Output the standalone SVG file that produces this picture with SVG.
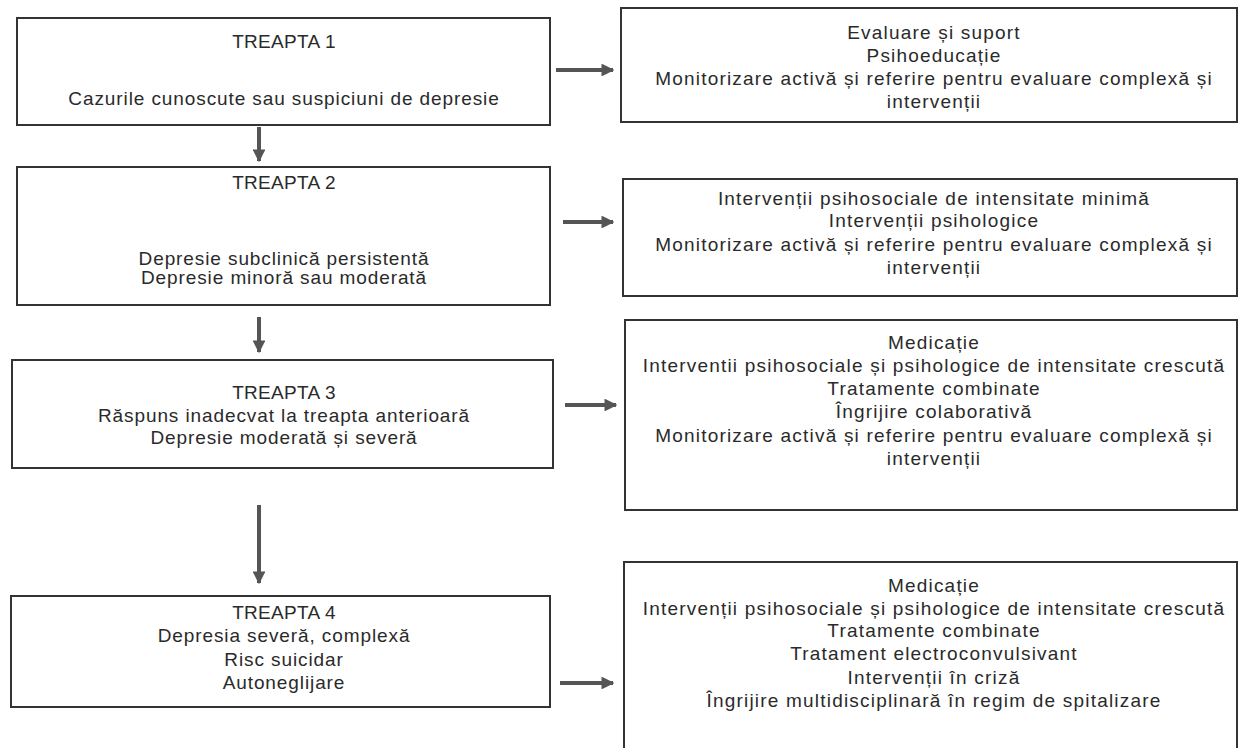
<svg xmlns="http://www.w3.org/2000/svg" width="1239" height="748" viewBox="0 0 1239 748">
<style>
.box{fill:#fff;stroke:#333;stroke-width:2}
.t{font-family:"Liberation Sans",Arial,sans-serif;font-size:19px;fill:#2a2a2a;text-anchor:middle;letter-spacing:0.9px}
.r{letter-spacing:1.2px}
.h{letter-spacing:0.3px}
.c{stroke:#555;stroke-width:4;fill:none}
</style>
<defs>
<marker id="ah" viewBox="0 0 10 10" refX="9" refY="5" markerWidth="3.2" markerHeight="3.2" orient="auto" markerUnits="strokeWidth">
<path d="M0,0 L10,5 L0,10 z" fill="#555"/>
</marker>
</defs>
<rect width="1239" height="748" fill="#fff"/>
<g id="connectors">
<line class="c" x1="259" y1="127" x2="259" y2="161" marker-end="url(#ah)"/>
<line class="c" x1="259" y1="317" x2="259" y2="352" marker-end="url(#ah)"/>
<line class="c" x1="259" y1="505" x2="259" y2="583" marker-end="url(#ah)"/>
<line class="c" x1="556" y1="70" x2="613" y2="70" marker-end="url(#ah)"/>
<line class="c" x1="563" y1="222" x2="613" y2="222" marker-end="url(#ah)"/>
<line class="c" x1="565" y1="405" x2="616" y2="405" marker-end="url(#ah)"/>
<line class="c" x1="560" y1="683" x2="613" y2="683" marker-end="url(#ah)"/>
</g>
<g id="step1">
<rect class="box" x="17" y="18" width="533" height="107"/>
<text class="t h" x="284" y="48">TREAPTA 1</text>
<text class="t" x="284" y="105">Cazurile cunoscute sau suspiciuni de depresie</text>
</g>
<g id="step2">
<rect class="box" x="17" y="167" width="533" height="138"/>
<text class="t h" x="284" y="189">TREAPTA 2</text>
<text class="t" x="284" y="265">Depresie subclinică persistentă</text>
<text class="t" x="284" y="284">Depresie minoră sau moderată</text>
</g>
<g id="step3">
<rect class="box" x="12" y="360" width="541" height="108"/>
<text class="t h" x="284" y="399">TREAPTA 3</text>
<text class="t" x="284" y="422">Răspuns inadecvat la treapta anterioară</text>
<text class="t" x="284" y="444">Depresie moderată și severă</text>
</g>
<g id="step4">
<rect class="box" x="11" y="596" width="539" height="111"/>
<text class="t h" x="284" y="619">TREAPTA 4</text>
<text class="t" x="284" y="642">Depresia severă, complexă</text>
<text class="t" x="284" y="666">Risc suicidar</text>
<text class="t" x="284" y="689">Autoneglijare</text>
</g>
<g id="action1">
<rect class="box" x="621" y="8" width="616" height="114"/>
<text class="t r" x="934" y="39">Evaluare și suport</text>
<text class="t r" x="934" y="62">Psihoeducație</text>
<text class="t r" x="934" y="85">Monitorizare activă și referire pentru evaluare complexă și</text>
<text class="t r" x="934" y="108">intervenții</text>
</g>
<g id="action2">
<rect class="box" x="623" y="179" width="614" height="117"/>
<text class="t r" x="934" y="205">Intervenții psihosociale de intensitate minimă</text>
<text class="t r" x="934" y="227">Intervenții psihologice</text>
<text class="t r" x="934" y="251">Monitorizare activă și referire pentru evaluare complexă și</text>
<text class="t r" x="934" y="274">intervenții</text>
</g>
<g id="action3">
<rect class="box" x="625" y="320" width="612" height="190"/>
<text class="t r" x="934" y="349">Medicație</text>
<text class="t r" x="934" y="372">Interventii psihosociale și psihologice de intensitate crescută</text>
<text class="t r" x="934" y="395">Tratamente combinate</text>
<text class="t r" x="934" y="418">Îngrijire colaborativă</text>
<text class="t r" x="934" y="442">Monitorizare activă și referire pentru evaluare complexă și</text>
<text class="t r" x="934" y="465">intervenții</text>
</g>
<g id="action4">
<rect class="box" x="624" y="562" width="613" height="195"/>
<text class="t r" x="934" y="592">Medicație</text>
<text class="t r" x="934" y="615">Intervenții psihosociale și psihologice de intensitate crescută</text>
<text class="t r" x="934" y="637">Tratamente combinate</text>
<text class="t r" x="934" y="660">Tratament electroconvulsivant</text>
<text class="t r" x="934" y="684">Intervenții în criză</text>
<text class="t r" x="934" y="707">Îngrijire multidisciplinară în regim de spitalizare</text>
</g>
</svg>
